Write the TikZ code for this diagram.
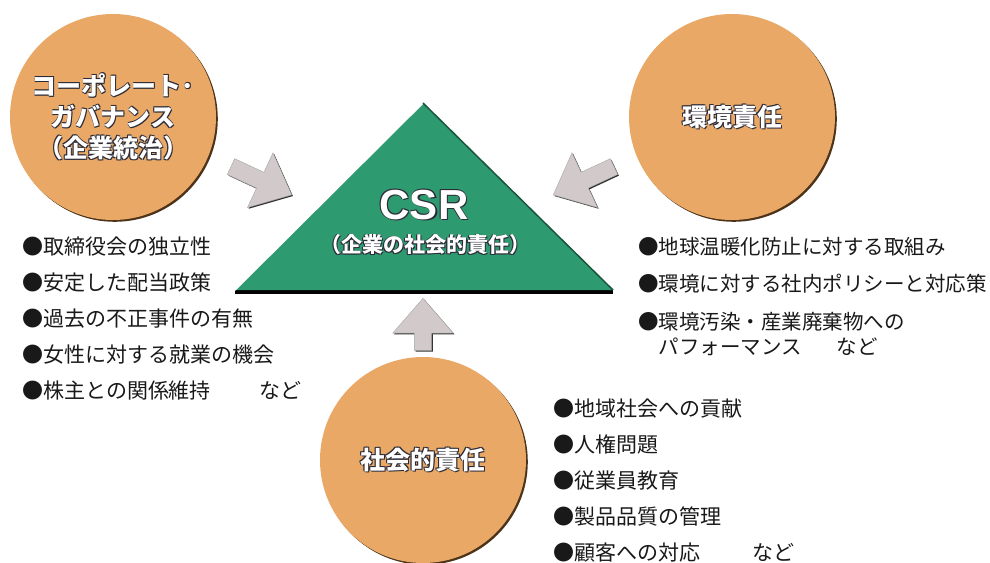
\documentclass[tikz,border=0pt]{standalone}
\usepackage{fontspec}
\usepackage{xcolor}
\usepackage{tikz}
\usetikzlibrary{shapes.geometric, shapes.arrows, shadows, positioning}

\newfontfamily\jpfont{Noto Sans CJK JP}
\newfontfamily\csrfont{Liberation Sans}

\definecolor{circfill}{HTML}{E9A865}
\definecolor{csrgreen}{HTML}{2E9A70}
\definecolor{arrowgray}{HTML}{D2CACA}
\definecolor{edgedark}{HTML}{2B2B38}

% white lettering with a dark rim
\newcommand{\outlined}[1]{\leavevmode%
  \rlap{\color{edgedark}\hspace{1.2pt}\raisebox{-1.2pt}{#1}}%
  \rlap{\color{edgedark}\hspace{-0.7pt}\raisebox{0.7pt}{#1}}%
  \rlap{\color{edgedark}\hspace{0.7pt}\raisebox{0.7pt}{#1}}%
  \rlap{\color{edgedark}\hspace{-0.7pt}\raisebox{-0.7pt}{#1}}%
  {\color{white}#1}}

\begin{document}
\begin{tikzpicture}[
    x=1pt, y=-1pt,
    pillar/.style={circle, fill=circfill, minimum size=206pt, inner sep=0pt, align=center,
        drop shadow={shadow xshift=1.8pt, shadow yshift=-1.8pt, fill=brown!40!black, opacity=1},
        font=\jpfont\bfseries\fontsize{25}{31}\selectfont},
    blockarrow/.style={single arrow, fill=arrowgray, draw=gray!70, line width=0.4pt, inner sep=8.5pt,
        single arrow head extend=21.5pt, single arrow tip angle=82,
        drop shadow={shadow xshift=1.2pt, shadow yshift=-1.2pt, fill=black!80, opacity=1}},
    itemlist/.style={align=left, inner sep=0pt, anchor=north west, text=black!90},
]
\useasboundingbox (0,0) rectangle (990,562);

% CSR triangle
\coordinate (apex) at (423,103);
\coordinate (baseL) at (235,290);
\coordinate (baseR) at (613,290);
\draw[line width=4pt, black] ([yshift=-1.5pt]baseL) -- ([yshift=-1.5pt]baseR);
\fill[csrgreen] (apex) -- (baseR) -- (baseL) -- cycle;
\draw[white, line width=1.5pt] (baseL) -- (apex);
\draw[csrgreen!55!black, line width=1.5pt] (apex) -- (baseR);

\node[font=\csrfont\bfseries\fontsize{42}{42}\selectfont] (csr) at (424,205) {\outlined{CSR}};
\node[font=\jpfont\bfseries\fontsize{21}{21}\selectfont] (csrsub) at (425,245) {\outlined{（企業の社会的責任）}};

% the three pillars
\node[pillar] (gov) at (113,117) {\outlined{コーポレート･}\\\outlined{ガバナンス}\\\outlined{（企業統治）}};
\node[pillar] (env) at (732,117) {\outlined{環境責任}};
\node[pillar] (soc) at (423,460) {\outlined{社会的責任}};

% arrows into the triangle
\node[blockarrow, minimum height=67pt, rotate=-25, anchor=tip] (govarrow) at (292,195) {};
\node[blockarrow, minimum height=67pt, rotate=205, anchor=tip] (envarrow) at (553,195) {};
\node[blockarrow, minimum height=52pt, rotate=90, anchor=tip] (socarrow) at (423,298) {};

% item lists
\node[itemlist, font=\jpfont\fontsize{21}{36}\selectfont] (govlist) at (22,237)
    {●取締役会の独立性\\●安定した配当政策\\●過去の不正事件の有無\\●女性に対する就業の機会\\●株主との関係維持\hspace{2.3em}など};
\node[itemlist, font=\jpfont\fontsize{20.5}{37.5}\selectfont] (envlist) at (638,237)
    {●地球温暖化防止に対する取組み\\●環境に対する社内ポリシーと対応策\\●環境汚染・産業廃棄物への\\[-12.5pt]\hspace*{1em}パフォーマンス\hspace{1.7em}など};
\node[itemlist, font=\jpfont\fontsize{21}{36}\selectfont] (soclist) at (553,399)
    {●地域社会への貢献\\●人権問題\\●従業員教育\\●製品品質の管理\\●顧客への対応\hspace{2.5em}など};

\end{tikzpicture}
\end{document}
